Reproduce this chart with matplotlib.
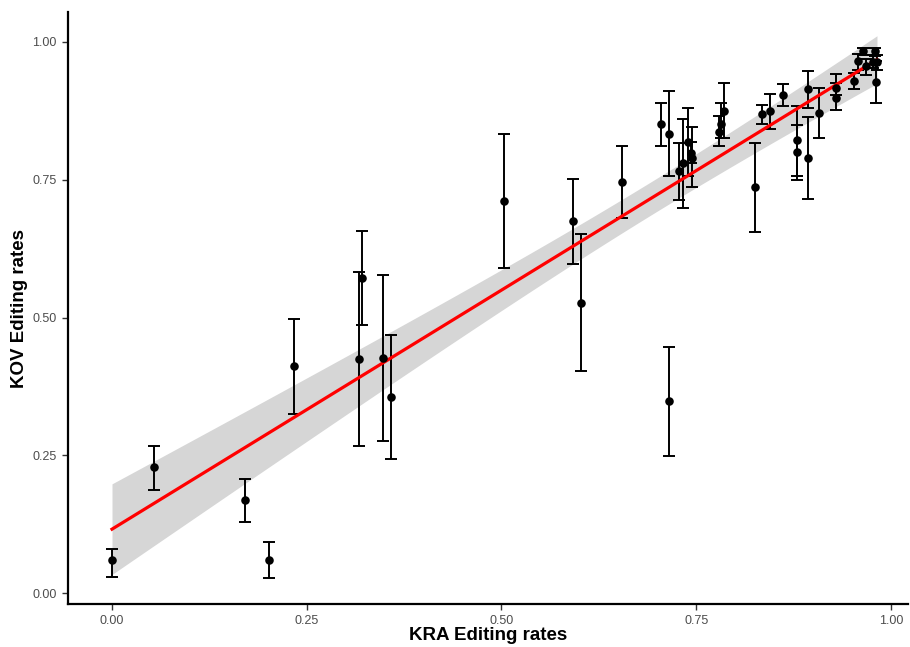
import numpy as np
import matplotlib
matplotlib.use("Agg")
import matplotlib.pyplot as plt

plt.rcParams['font.family'] = ['Liberation Sans', 'DejaVu Sans']

kra = [0.000, 0.054, 0.171, 0.202, 0.234, 0.317, 0.321, 0.348, 0.358, 0.503,
       0.592, 0.602, 0.655, 0.715, 0.705, 0.715, 0.728, 0.733, 0.739, 0.743,
       0.745, 0.779, 0.782, 0.785, 0.826, 0.879, 0.879, 0.893, 0.893, 0.908,
       0.929, 0.929, 0.953, 0.958, 0.964, 0.968, 0.977, 0.979, 0.981, 0.982,
       0.835, 0.845, 0.862]
kov = [0.060, 0.229, 0.169, 0.060, 0.412, 0.425, 0.572, 0.427, 0.356, 0.711,
       0.675, 0.527, 0.746, 0.348, 0.851, 0.833, 0.766, 0.780, 0.818, 0.798,
       0.790, 0.837, 0.852, 0.875, 0.737, 0.822, 0.800, 0.914, 0.789, 0.871,
       0.916, 0.899, 0.929, 0.965, 0.984, 0.956, 0.964, 0.984, 0.927, 0.963,
       0.869, 0.874, 0.903]
kov_lo = [0.029, 0.187, 0.129, 0.027, 0.325, 0.267, 0.486, 0.276, 0.243, 0.590,
          0.598, 0.402, 0.680, 0.249, 0.811, 0.757, 0.714, 0.698, 0.756, 0.780,
          0.736, 0.812, 0.825, 0.826, 0.656, 0.757, 0.750, 0.880, 0.715, 0.825,
          0.904, 0.877, 0.915, 0.950, 0.976, 0.940, 0.952, 0.975, 0.890, 0.950,
          0.852, 0.842, 0.883]
kov_hi = [0.080, 0.267, 0.207, 0.093, 0.497, 0.583, 0.657, 0.578, 0.468, 0.833,
          0.751, 0.652, 0.811, 0.446, 0.890, 0.911, 0.817, 0.861, 0.881, 0.818,
          0.845, 0.866, 0.889, 0.925, 0.817, 0.883, 0.849, 0.947, 0.863, 0.917,
          0.942, 0.926, 0.943, 0.978, 0.990, 0.970, 0.976, 0.990, 0.965, 0.977,
          0.886, 0.905, 0.924]

x = np.array(kra)
y = np.array(kov)
lo = np.array(kov_lo)
hi = np.array(kov_hi)

W, H = 910, 647
fig = plt.figure(figsize=(W / 100, H / 100), dpi=100)
ax = fig.add_axes([68 / W, (H - 604) / H, (908 - 68) / W, (604 - 12) / H])

# linear fit with 95% CI
n = len(x)
slope, intercept = np.polyfit(x, y, 1)
xs = np.linspace(x.min(), x.max(), 200)
ys = intercept + slope * xs
resid = y - (intercept + slope * x)
s = np.sqrt(np.sum(resid ** 2) / (n - 2))
sxx = np.sum((x - x.mean()) ** 2)
se = s * np.sqrt(1 / n + (xs - x.mean()) ** 2 / sxx)
tq = 2.0195  # t(0.975, df=41)
ax.fill_between(xs, ys - tq * se, ys + tq * se, color='#d6d6d6', lw=0, zorder=1)

ax.errorbar(x, y, yerr=[y - lo, hi - y], fmt='none', ecolor='black',
            elinewidth=1.4, capsize=4, capthick=1.4, zorder=2)
ax.plot(xs, ys, color='#ff0000', lw=2.3, zorder=3)
ax.scatter(x, y, s=38, color='black', zorder=4, linewidths=0)

ax.set_xlim((68 - 112) / 779, (908 - 112) / 779)
ax.set_ylim((593 - 604) / 551, (593 - 12) / 551)

ticks = [0.0, 0.25, 0.5, 0.75, 1.0]
labels = ['0.00', '0.25', '0.50', '0.75', '1.00']
ax.set_xticks(ticks)
ax.set_xticklabels(labels)
ax.set_yticks(ticks)
ax.set_yticklabels(labels)

for sp in ['top', 'right']:
    ax.spines[sp].set_visible(False)
for sp in ['left', 'bottom']:
    ax.spines[sp].set_linewidth(1.6)
ax.tick_params(axis='both', colors='#333333', labelcolor='#4d4d4d',
               labelsize=9, length=4, width=1, pad=4)

ax.set_xlabel('KRA Editing rates', fontsize=13.5, fontweight='bold', va='center')
ax.set_ylabel('KOV Editing rates', fontsize=13.5, fontweight='bold', va='center')
ax.xaxis.set_label_coords(0.5, (604 - 636) / 592)
ax.yaxis.set_label_coords((20 - 68) / 840, 0.5)

fig.savefig('out.png', dpi=100)
